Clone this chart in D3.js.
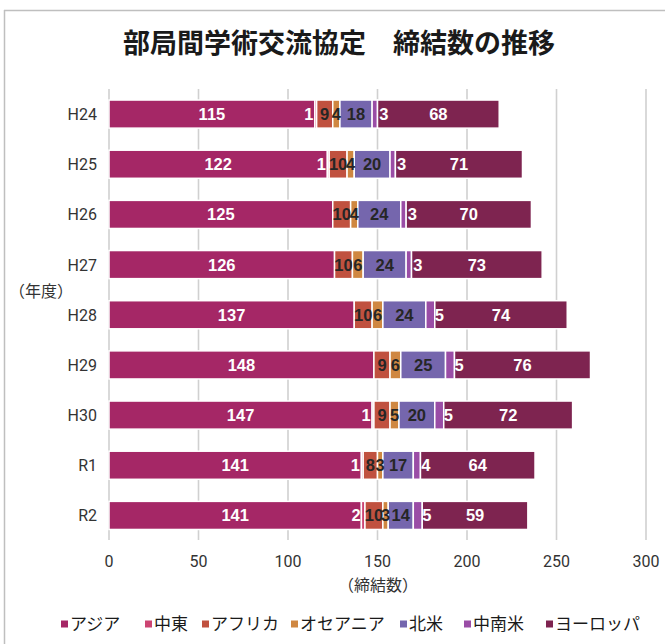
<!DOCTYPE html>
<html><head><meta charset="utf-8">
<script src="https://cdn.jsdelivr.net/npm/d3@7"></script>
<style>
html,body{margin:0;padding:0;background:#fff;}
svg{display:block;font-family:"Noto Sans CJK JP","Noto Sans",sans-serif;}
</style></head>
<body>
<svg id="chart" width="665" height="644"></svg>
<script>
const categories = ["H24","H25","H26","H27","H28","H29","H30","R1","R2"];
const seriesNames = ["アジア","中東","アフリカ","オセアニア","北米","中南米","ヨーロッパ"];
const asia      = [115,122,125,126,137,148,147,141,141];
const middleEast= [1,1,0,0,0,0,1,1,2];
const africa    = [9,10,10,10,10,9,9,8,10];
const oceania   = [4,4,4,6,6,6,5,3,3];
const northAm   = [18,20,24,24,24,25,20,17,14];
const latinAm   = [3,3,3,3,5,5,5,4,5];
const europe    = [68,71,70,73,74,76,72,64,59];
const xTicks = [0,50,100,150,200,250,300];

const seriesValues = [asia,middleEast,africa,oceania,northAm,latinAm,europe];
const colors = ["#A52766","#CC4472","#C0513F","#CF8741","#7566AD","#9A4DA6","#7E2450"];
const labelColors = ["#fff","#fff","#262626","#262626","#262626","#fff","#fff"];
const labelDx = [0,-7,0,0,0,9,0];

const svg = d3.select("#chart");

// outer border
svg.append("line").attr("x1",4).attr("x2",665).attr("y1",10.5).attr("y2",10.5).attr("stroke","#bfbfbf").attr("stroke-width",1.5);
svg.append("line").attr("x1",4.5).attr("x2",4.5).attr("y1",10).attr("y2",644).attr("stroke","#bfbfbf").attr("stroke-width",1.5);

// title
svg.append("text").attr("x",339).attr("y",53).attr("text-anchor","middle")
  .attr("font-size",27).attr("font-weight","bold").attr("fill","#1a1a1a")
  .text("部局間学術交流協定　締結数の推移");

const x = d3.scaleLinear().domain([0,300]).range([109,646]);
const y = d3.scaleBand().domain(categories).range([89,540.5]).paddingInner(0.44).paddingOuter(0.22);

// gridlines
svg.append("g").selectAll("line").data(xTicks).join("line")
  .attr("x1",d=>x(d)).attr("x2",d=>x(d)).attr("y1",89).attr("y2",540)
  .attr("stroke","#d0d0d0").attr("stroke-width",1.6);

// stacked data
const table = categories.map((c,i)=>{
  const o = {cat:c};
  seriesNames.forEach((s,j)=>o[s]=seriesValues[j][i]);
  return o;
});
const stacked = d3.stack().keys(seriesNames)(table);

const g = svg.append("g");
stacked.forEach((layer,j)=>{
  g.append("g").selectAll("rect").data(layer).join("rect")
    .attr("x",d=>x(d[0])).attr("width",d=>x(d[1])-x(d[0]))
    .attr("y",d=>y(d.data.cat)).attr("height",y.bandwidth())
    .attr("fill",colors[j]).attr("stroke","#fff").attr("stroke-width",1.5);
});
stacked.forEach((layer,j)=>{
  g.append("g").selectAll("text").data(layer.filter(d=>d[1]-d[0]>0)).join("text")
    .attr("x",d=>(x(d[0])+x(d[1]))/2+labelDx[j])
    .attr("y",d=>y(d.data.cat)+y.bandwidth()/2+6)
    .attr("text-anchor","middle")
    .attr("font-family","'Liberation Sans',Arial,sans-serif")
    .attr("font-weight","bold").attr("font-size",16.5)
    .attr("fill",labelColors[j])
    .text(d=>d[1]-d[0]);
});

// x tick labels
svg.append("g").selectAll("text").data(xTicks).join("text")
  .attr("x",d=>x(d)).attr("y",567).attr("text-anchor","middle")
  .attr("font-family","Roboto,'Liberation Sans',sans-serif")
  .attr("font-size",16).attr("fill","#333").text(d=>d);

// category labels
svg.append("g").selectAll("text").data(categories).join("text")
  .attr("x",97).attr("y",d=>y(d)+y.bandwidth()/2+6).attr("text-anchor","end")
  .attr("font-family","Roboto,'Liberation Sans',sans-serif")
  .attr("font-size",16).attr("fill","#333").text(d=>d);

// axis titles
svg.append("text").attr("x",378).attr("y",591).attr("text-anchor","middle")
  .attr("font-size",16).attr("fill","#333").text("（締結数）");
svg.append("text").attr("x",41).attr("y",297).attr("text-anchor","middle")
  .attr("font-size",16).attr("fill","#333").text("（年度）");

// legend
const legendX = [61,145,202,291,400,464,546];
const lg = svg.append("g");
seriesNames.forEach((s,j)=>{
  lg.append("rect").attr("x",legendX[j]).attr("y",620.5).attr("width",7).attr("height",7).attr("fill",colors[j]);
  lg.append("text").attr("x",legendX[j]+9).attr("y",630).attr("font-size",17).attr("fill","#1a1a1a").text(s);
});
</script>
</body></html>
